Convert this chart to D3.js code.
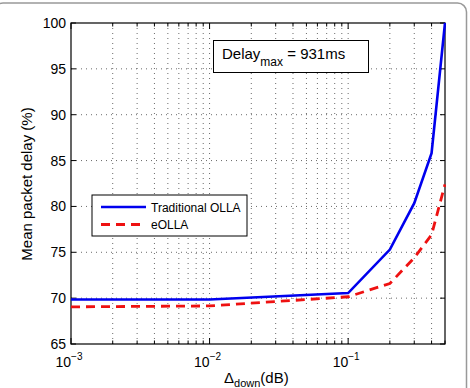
<!DOCTYPE html>
<html><head><meta charset="utf-8">
<script src="https://cdn.jsdelivr.net/npm/d3@7"></script>
<style>body{margin:0;background:#fff}svg{display:block}text{font-family:"Liberation Sans",Arial,sans-serif;fill:#000}</style>
</head><body><svg id="c" width="470" height="388"></svg>
<script>
const xValues = [0.001, 0.01, 0.1, 0.2, 0.3, 0.4, 0.5];
const traditionalOLLA = [69.85, 69.85, 70.55, 75.3, 80.35, 85.8, 100];
const eOLLA = [69.05, 69.15, 70.15, 71.6, 74.4, 76.9, 82.4];
const yTicks = [65, 70, 75, 80, 85, 90, 95, 100];
const xTickExps = [-3, -2, -1];
const seriesNames = ["Traditional OLLA", "eOLLA"];

const svg = d3.select("#c");
const m = {l: 71, r: 445, t: 23, b: 344};
const x = d3.scaleLog().domain([0.001, 0.5]).range([m.l, m.r]);
const y = d3.scaleLinear().domain([65, 100]).range([m.b, m.t]);

// outer rounded frame
svg.append("rect").attr("x", -6).attr("y", 3).attr("width", 472.5).attr("height", 420)
  .attr("rx", 9).attr("fill", "none").attr("stroke", "#999").attr("stroke-width", 1.5);

// minor x positions
const minorX = [];
for (let e = -3; e <= -1; e++) for (let k = 1; k <= 9; k++) { const v = k * Math.pow(10, e); if (v <= 0.5) minorX.push(v); }

const grid = svg.append("g").attr("stroke", "#444").attr("stroke-width", 0.8).attr("stroke-dasharray", "1,4");
grid.selectAll("line.gx").data(minorX.filter(v => v > 0.001 && v < 0.5)).join("line")
  .attr("x1", d => x(d)).attr("x2", d => x(d)).attr("y1", m.t).attr("y2", m.b);
grid.selectAll("line.gy").data(yTicks.filter(v => v > 65 && v < 100)).join("line").attr("class", "gy")
  .attr("x1", m.l).attr("x2", m.r).attr("y1", d => y(d)).attr("y2", d => y(d));

// ticks (inside, both sides)
const tk = svg.append("g").attr("stroke", "#000").attr("stroke-width", 1);
minorX.forEach(v => {
  const major = xTickExps.some(e => Math.abs(v - Math.pow(10, e)) < 1e-12);
  const L = major ? 6 : 3.5;
  tk.append("line").attr("x1", x(v)).attr("x2", x(v)).attr("y1", m.b).attr("y2", m.b - L);
  tk.append("line").attr("x1", x(v)).attr("x2", x(v)).attr("y1", m.t).attr("y2", m.t + L);
});
yTicks.forEach(v => {
  tk.append("line").attr("x1", m.l).attr("x2", m.l + 5).attr("y1", y(v)).attr("y2", y(v));
  tk.append("line").attr("x1", m.r).attr("x2", m.r - 5).attr("y1", y(v)).attr("y2", y(v));
});

// frame
svg.append("rect").attr("x", m.l).attr("y", m.t).attr("width", m.r - m.l).attr("height", m.b - m.t)
  .attr("fill", "none").attr("stroke", "#000").attr("stroke-width", 1.2);

// y tick labels
svg.append("g").selectAll("text").data(yTicks).join("text")
  .attr("x", m.l - 5).attr("y", d => y(d) + 5).attr("text-anchor", "end").attr("font-size", 14).text(d => d);

// x tick labels
const xl = svg.append("g");
xTickExps.forEach(e => {
  const t = xl.append("text").attr("x", x(Math.pow(10, e)) - 2).attr("y", 367).attr("text-anchor", "middle").attr("font-size", 14);
  t.append("tspan").text("10");
  t.append("tspan").attr("dy", -7).attr("font-size", 10).text("\u2212" + (-e));
});

// axis labels
const xt = svg.append("text").attr("x", 224).attr("y", 383).attr("font-size", 15);
xt.append("tspan").text("\u0394");
xt.append("tspan").attr("dy", 3.5).attr("font-size", 11).text("down");
xt.append("tspan").attr("dy", -3.5).text("(dB)");
svg.append("text").attr("transform", "translate(32,184) rotate(-90)").attr("text-anchor", "middle")
  .attr("font-size", 15).text("Mean packet delay (%)");

// lines
const line = d3.line().x(d => x(d[0])).y(d => y(d[1]));
svg.append("clipPath").attr("id", "pc").append("rect").attr("x", m.l).attr("y", m.t - 2).attr("width", m.r - m.l + 1).attr("height", m.b - m.t + 4);
svg.append("path").datum(xValues.map((v, i) => [v, traditionalOLLA[i]])).attr("d", line)
  .attr("fill", "none").attr("stroke", "#0000ee").attr("stroke-width", 2.6).attr("clip-path", "url(#pc)");
svg.append("path").datum(xValues.map((v, i) => [v, eOLLA[i]])).attr("d", line)
  .attr("fill", "none").attr("stroke", "#ee1111").attr("stroke-width", 2.8).attr("stroke-dasharray", "9,6").attr("clip-path", "url(#pc)");

// legend
const lg = svg.append("g");
lg.append("rect").attr("x", 92).attr("y", 195).attr("width", 155).attr("height", 41).attr("fill", "#fff").attr("stroke", "#000").attr("stroke-width", 1);
lg.append("line").attr("x1", 101).attr("x2", 146).attr("y1", 207).attr("y2", 207).attr("stroke", "#0000ee").attr("stroke-width", 2.6);
lg.append("line").attr("x1", 101).attr("x2", 146).attr("y1", 224.5).attr("y2", 224.5).attr("stroke", "#ee1111").attr("stroke-width", 2.8).attr("stroke-dasharray", "9,6");
lg.append("text").attr("x", 151).attr("y", 211.5).attr("font-size", 12).text(seriesNames[0]);
lg.append("text").attr("x", 151).attr("y", 229).attr("font-size", 12).text(seriesNames[1]);

// annotation box
const an = svg.append("g");
an.append("rect").attr("x", 213.5).attr("y", 40.5).attr("width", 155).attr("height", 32).attr("fill", "#fff").attr("stroke", "#000").attr("stroke-width", 1);
const at = an.append("text").attr("x", 222).attr("y", 59).attr("font-size", 15);
at.append("tspan").text("Delay");
at.append("tspan").attr("dy", 7).attr("font-size", 12).text("max");
at.append("tspan").attr("dy", -7).text(" = 931ms");
</script></body></html>
